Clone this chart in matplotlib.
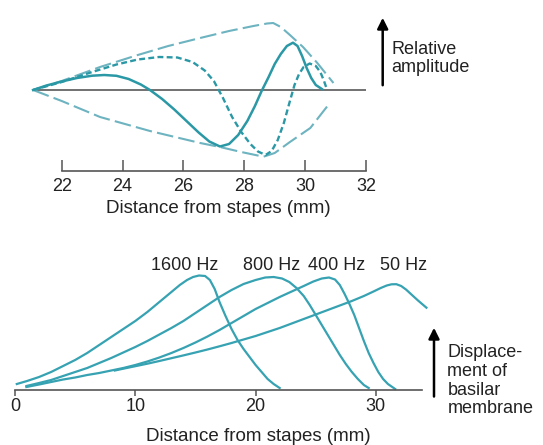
import matplotlib.pyplot as plt
from matplotlib.patches import FancyArrowPatch

plt.rcParams['font.family'] = ['Liberation Sans', 'DejaVu Sans']

# ---- top panel: travelling wave (distance in mm, relative amplitude)
env_up_mm = [21.06, 22.0, 23.26, 24.5, 25.5, 26.55, 27.5, 28.3, 28.75, 28.95, 29.2, 29.5, 29.93, 30.4, 30.93]
env_up_amp = [0, 9, 23, 35, 44, 52, 59, 64, 66.5, 67, 63, 55, 43, 27, 7]
env_lo_mm = [21.06, 22.0, 23.26, 24.9, 26.55, 27.2, 27.9, 28.63, 29.0, 29.5, 30.17, 30.76]
env_lo_amp = [0, -11, -27, -41, -53, -57, -62, -66.7, -63, -52, -38, -15]
wave1_mm = [21.06, 21.5, 22.0, 22.5, 23.0, 23.4, 23.8, 24.2, 24.6, 24.9, 25.3, 25.7, 26.1, 26.5,
            26.85, 27.2, 27.5, 27.8, 28.1, 28.35, 28.57, 28.8, 29.0, 29.2, 29.4, 29.6, 29.75,
            29.9, 30.05, 30.2, 30.35, 30.55]
wave1_amp = [0, 4.5, 8.5, 12, 14.3, 15, 14.2, 11, 5.5, 0, -9, -19.5, -31, -42.5,
             -51.5, -56.5, -54, -45, -31, -16, -1, 13, 26, 36, 44, 47.3, 44,
             34, 22, 12, 5, 1]
wave2_mm = [21.06, 22.0, 23.0, 23.8, 24.5, 25.2, 25.8, 26.3, 26.7, 27.0, 27.3, 27.6, 27.9, 28.2,
            28.45, 28.7, 28.9, 29.1, 29.3, 29.5, 29.65, 29.8, 29.95, 30.15, 30.35, 30.5, 30.62, 30.7]
wave2_amp = [0, 8, 18, 25.5, 30.5, 33, 32.5, 28, 19.5, 9, -8, -27, -42, -54,
             -61.5, -65, -61, -50, -33, -11, 5, 16, 23, 26.5, 24, 18, 9, 2]
top_ticks = [22, 24, 26, 28, 30, 32]

# ---- bottom panel: displacement envelopes per frequency
freq_labels = ['1600 Hz', '800 Hz', '400 Hz', '50 Hz']
label_mm = [14.1, 21.3, 26.7, 32.3]
f1600_mm = [0.15, 1, 2, 3, 4, 5, 6, 7, 8, 9, 10, 11, 12, 13, 13.7, 14.3, 14.8, 15.3, 15.8,
            16.2, 16.6, 17.0, 17.5, 18.0, 18.5, 19.0, 19.5, 20.0, 20.5, 21.0, 21.5, 22.0]
f1600_amp = [6, 9, 13, 18, 24, 30, 37, 45, 53, 61, 69, 78, 88, 98, 105, 110, 113, 114.5, 114,
             110, 101, 88, 74, 61, 50, 41, 33, 25, 18, 11, 6, 2]
f800_mm = [0.95, 2, 3, 4, 5, 6, 7, 8, 9, 10, 11, 12, 13, 14, 15, 16, 17, 18, 19, 20, 20.8,
           21.5, 22.2, 22.8, 23.4, 24.0, 24.5, 25.0, 25.5, 26.0, 26.5, 27.0, 27.5, 28.0,
           28.5, 29.0, 29.4]
f800_amp = [4, 7, 10, 14, 18, 22, 27, 32, 37.5, 43, 49, 55.5, 62, 69, 77, 85, 93, 100, 106,
            110, 112.5, 113, 111.5, 108, 102, 94, 85, 75, 65, 55, 45, 35, 26, 18,
            11, 5, 2]
f400_mm = [0.95, 2, 3, 4, 5, 6, 7, 8, 9, 10, 11, 12, 13, 14, 15, 16, 17, 18, 19, 20, 21, 22,
           23, 24, 24.8, 25.5, 26.1, 26.6, 27.0, 27.4, 27.8, 28.2, 28.6, 29.0, 29.4, 29.8,
           30.2, 30.6, 31.0, 31.6]
f400_amp = [3, 5.5, 8, 10.5, 12.5, 15, 17, 19.5, 22, 25, 28.5, 32.5, 37, 42, 47.5, 53.5, 60,
            67, 74, 81, 87, 93, 98.5, 104, 108.5, 111.5, 112.5, 110.5, 105, 96, 86, 75,
            62, 49, 37, 27, 18, 11, 6, 1]
f50_mm = [8.3, 9, 10, 11, 12, 13, 14, 15, 16, 17, 18, 19, 20, 21, 22, 23, 24, 25, 26, 27,
          28, 29, 29.8, 30.4, 30.9, 31.3, 31.7, 32.1, 32.5, 33.0, 33.5, 34.2]
f50_amp = [19.5, 21.3, 23.8, 26.3, 29, 31.8, 34.6, 37.5, 40.5, 43.7, 47, 50.5, 54, 58, 62,
           66.5, 71, 75.5, 80, 84.5, 89, 94, 98.5, 102, 104.5, 105.7, 105.8, 104, 100.5,
           95, 89.5, 82.3]
bottom_ticks = [0, 10, 20, 30]

teal = '#2b98a6'
light = '#6db3c0'
curve = '#36a2b2'
axis_grey = '#555555'
text_col = '#222222'

fig = plt.figure(figsize=(5.43, 4.45), dpi=100)

# top panel
ax1 = fig.add_axes([0, 1 - 230 / 445, 1, 230 / 445])
ax1.set_xlim(19.972, 37.817)
ax1.set_ylim(-140, 90)
ax1.hlines(0, 21.06, 32, color='#666666', lw=1.3)
ax1.plot(env_up_mm, env_up_amp, color=light, lw=1.5, dashes=(8, 2.5))
ax1.plot(env_lo_mm, env_lo_amp, color=light, lw=1.5, dashes=(8, 2.5))
ax1.plot(wave2_mm, wave2_amp, color=teal, lw=1.7, dashes=(2.5, 1.4))
ax1.plot(wave1_mm, wave1_amp, color=teal, lw=1.8)
for s in ['top', 'right', 'left']:
    ax1.spines[s].set_visible(False)
ax1.spines['bottom'].set_position(('data', -80.7))
ax1.spines['bottom'].set_bounds(22, 32)
ax1.spines['bottom'].set_color(axis_grey)
ax1.spines['bottom'].set_linewidth(1.2)
ax1.set_xticks(top_ticks)
ax1.set_yticks([])
ax1.tick_params(axis='x', direction='in', length=8, width=1.1, color=axis_grey,
                labelsize=13, pad=5, labelcolor=text_col)
ax1.set_xlabel('Distance from stapes (mm)', fontsize=13.5, color=text_col)
ax1.xaxis.set_label_coords(218 / 543, 30 / 230)
ax1.patch.set_visible(False)

# bottom panel
ax2 = fig.add_axes([0, 0, 1, 205 / 445])
ax2.set_xlim(-1.247, 43.89)
ax2.set_ylim(-55, 150)
for xs, ys in [(f1600_mm, f1600_amp), (f800_mm, f800_amp), (f400_mm, f400_amp), (f50_mm, f50_amp)]:
    ax2.plot(xs, ys, color=curve, lw=1.6, solid_joinstyle='round')
for lab, xm in zip(freq_labels, label_mm):
    ax2.text(xm, 125, lab, ha='center', va='center', fontsize=13, color=text_col)
for s in ['top', 'right', 'left']:
    ax2.spines[s].set_visible(False)
ax2.spines['bottom'].set_position(('data', 0))
ax2.spines['bottom'].set_bounds(0, 33.8)
ax2.spines['bottom'].set_color(axis_grey)
ax2.spines['bottom'].set_linewidth(1.2)
ax2.set_xticks(bottom_ticks)
ax2.set_yticks([])
ax2.tick_params(axis='x', direction='out', length=4, width=1.1, color=axis_grey,
                labelsize=13, pad=2, labelcolor=text_col)
ax2.set_xlabel('Distance from stapes (mm)', fontsize=13.5, color=text_col)
ax2.xaxis.set_label_coords(258 / 543, 17 / 205)
ax2.patch.set_visible(False)

# arrows and side labels
fig.patches.append(FancyArrowPatch((382.7, 357), (382.7, 430), transform=None,
                                   arrowstyle='-|>', mutation_scale=16, color='black', lw=1.8))
fig.text(391.7 / 543, 386.5 / 445, 'Relative\namplitude', fontsize=13, va='center',
         ha='left', color=text_col, linespacing=1.15)
fig.patches.append(FancyArrowPatch((434, 45.7), (434, 120), transform=None,
                                   arrowstyle='-|>', mutation_scale=16, color='black', lw=1.8))
fig.text(447.3 / 543, 64.2 / 445, 'Displace-\nment of\nbasilar\nmembrane', fontsize=13,
         va='center', ha='left', color=text_col, linespacing=1.12)

fig.savefig('out.png', dpi=100, facecolor='white')
